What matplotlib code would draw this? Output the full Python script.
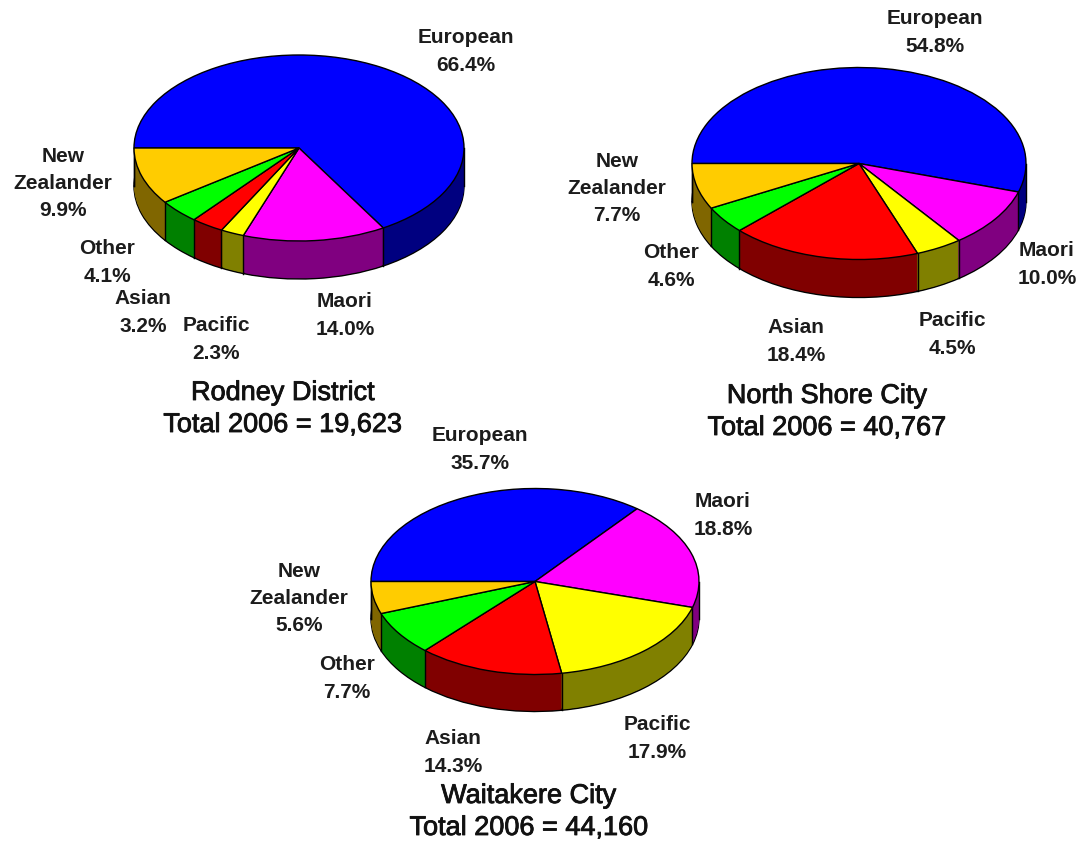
import matplotlib
matplotlib.use('Agg')
import matplotlib.pyplot as plt
import matplotlib.patheffects as pe
import numpy as np

plt.rcParams['font.family'] = ['Liberation Sans', 'DejaVu Sans']

# 数据
groups = ['European', 'Maori', 'Pacific', 'Asian', 'Other', 'New\nZealander']
rodney = [66.4, 14.0, 2.3, 3.2, 4.1, 9.9]
north_shore = [54.8, 10.0, 4.5, 18.4, 4.6, 7.7]
waitakere = [35.7, 18.8, 17.9, 14.3, 7.7, 5.6]
titles = ['Rodney District\nTotal 2006 = 19,623',
          'North Shore City\nTotal 2006 = 40,767',
          'Waitakere City\nTotal 2006 = 44,160']

top_colors = ['#0000FF', '#FF00FF', '#FFFF00', '#FF0000', '#00FF00', '#FFCC00']
side_colors = ['#000080', '#800080', '#808000', '#800000', '#008000', '#806600']

W, H = 1082, 842
fig = plt.figure(figsize=(W / 100, H / 100), dpi=100, facecolor='white')


def pie3d(values, cx, cy, rx, ry, depth):
    ax = fig.add_axes([(cx - rx) / W, 1 - (cy + ry) / H, 2 * rx / W, 2 * ry / H])
    d = depth / ry
    # 侧面：一层层往上叠
    offsets = np.linspace(d, 0, int(depth) + 1)
    for i, off in enumerate(offsets[:-1]):
        edge = 'black' if i == 0 else 'none'
        ax.pie(values, colors=side_colors, startangle=180, counterclock=False,
               center=(0, -off), wedgeprops=dict(edgecolor=edge, linewidth=1.0, clip_on=False))
    # 分隔线
    angles = np.radians(180 - np.cumsum(values) / np.sum(values) * 360)
    for a in list(angles) + [np.pi, 0]:
        if np.sin(a) <= 1e-6:
            ax.plot([np.cos(a), np.cos(a)], [np.sin(a), np.sin(a) - d], color='black', lw=1.0,
                    clip_on=False, zorder=5)
    # 顶面
    ax.pie(values, colors=top_colors, startangle=180, counterclock=False,
           wedgeprops=dict(edgecolor='black', linewidth=1.0, clip_on=False))
    for w in ax.patches[-6:]:
        w.set_zorder(6)
    ax.set_aspect('auto')
    ax.set_xlim(-1, 1)
    ax.set_ylim(-1, 1)
    ax.axis('off')


def label(x, y, s):
    fig.text(x / W, 1 - (y + 1.5) / H, s, ha='center', va='center', fontsize=15, fontweight='bold',
             color='#1c1c1c', linespacing=1.54)


def title(x, y, s):
    t = fig.text(x / W, 1 - y / H, s, ha='center', va='center', fontsize=19.5, color='#111111',
                 linespacing=1.3)
    t.set_path_effects([pe.withStroke(linewidth=0.6, foreground='#111111')])


pie3d(rodney, 299, 148, 165, 93, 38)
pie3d(north_shore, 859, 163.5, 167, 96, 38)
pie3d(waitakere, 535, 581.5, 164, 93, 37)

rodney_pos = [(466, 50), (345, 314), (216, 338), (143, 311), (107, 261), (63, 182)]
north_pos = [(935, 31), (1047, 263), (952, 333), (796, 340), (671, 265), (617, 187)]
waitakere_pos = [(480, 448), (723, 514), (657, 737), (453, 751), (347, 677), (299, 597)]

for vals, pos in [(rodney, rodney_pos), (north_shore, north_pos), (waitakere, waitakere_pos)]:
    for g, v, (x, y) in zip(groups, vals, pos):
        label(x, y, f'{g}\n{v:.1f}%')

title(283, 409, titles[0])
title(827, 412, titles[1])
title(529, 812, titles[2])

fig.savefig('out.png', dpi=100)
